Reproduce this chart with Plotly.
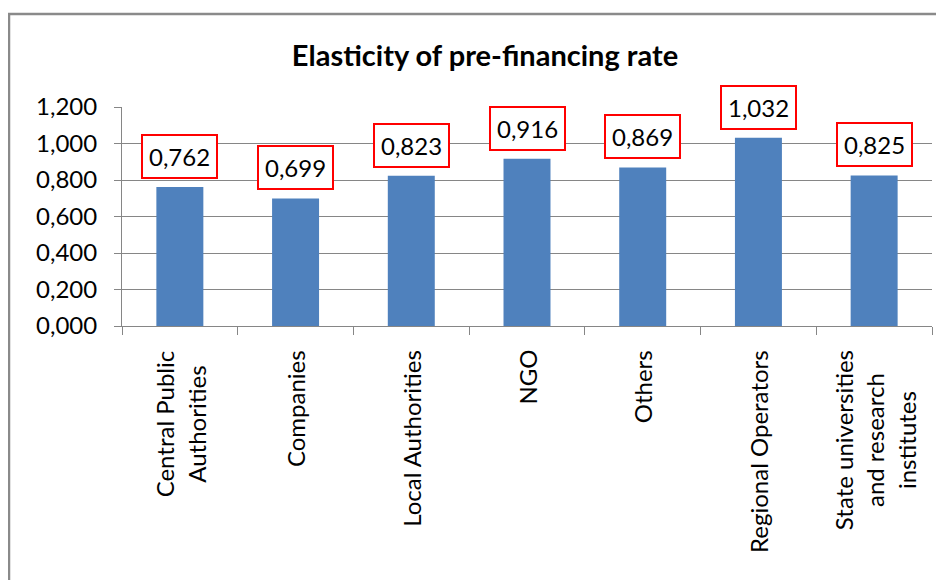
import plotly.graph_objects as go

categories = ["Central Public<br>Authorities", "Companies", "Local Authorities", "NGO",
              "Others", "Regional Operators", "State universities<br>and research<br>institutes"]
values = [0.762, 0.699, 0.823, 0.916, 0.869, 1.032, 0.825]
y_ticks = [0.0, 0.2, 0.4, 0.6, 0.8, 1.0, 1.2]
title_text = "Elasticity of pre-financing rate"

FONT = "Lato"
GRID = "#868686"
OFF = 8  # page body margin

fig = go.Figure()
fig.add_trace(go.Bar(x=categories, y=values, marker=dict(color="#4F81BD", line=dict(width=0)),
                     hoverinfo="skip"))

for c, v in zip(categories, values):
    fig.add_annotation(x=c, y=v, xref="x", yref="y", yanchor="bottom", yshift=8,
                       text=f"{v:.3f}".replace(".", ","), showarrow=False,
                       font=dict(family=FONT, size=24, color="#000000"),
                       bgcolor="white", bordercolor="#FF0000", borderwidth=2, borderpad=6)

# category labels, rotated, lines centred as in the original
for c in categories:
    fig.add_annotation(x=c, y=0, xref="x", yref="paper", yanchor="top", xanchor="center",
                       yshift=-22, textangle=-90, text=c, showarrow=False, align="center",
                       font=dict(family=FONT, size=24, color="#000000"))

W, H = 944 - OFF, 580 - OFF
L, R, T, B = 122 - OFF, 932 - OFF, 107 - OFF, 326 - OFF
def px(xp):
    return (xp - OFF - L) / (R - L)
def py(yp):
    return (B - (yp - OFF)) / (B - T)

fig.add_shape(type="rect", xref="paper", yref="paper",
              x0=px(9), x1=px(980), y0=py(14), y1=py(640),
              line=dict(color="#8a8a8a", width=2.5), fillcolor="rgba(0,0,0,0)", layer="above")

fig.update_layout(
    width=W, height=H,
    margin=dict(l=L, r=W - R, t=T, b=H - B, pad=0),
    paper_bgcolor="white", plot_bgcolor="white",
    separators=",.",
    bargap=0.594,
    showlegend=False,
    title=dict(text="<b>" + title_text + "</b>", x=(485 - OFF) / W, xanchor="center",
               y=1 - (56 - OFF) / H, yanchor="middle", xref="container", yref="container",
               font=dict(family=FONT, size=29, color="#000000")),
    font=dict(family=FONT, color="#000000"),
)
fig.update_yaxes(range=[0, 1.2], tickvals=y_ticks, tickformat=".3f",
                 showgrid=True, gridcolor=GRID, gridwidth=1,
                 showline=True, linecolor=GRID, linewidth=1,
                 ticks="outside", ticklen=7, tickcolor=GRID, tickwidth=1,
                 zeroline=False, ticklabelstandoff=12,
                 tickfont=dict(family=FONT, size=24, color="#000000"), fixedrange=True)
fig.update_xaxes(showgrid=False, showline=True, linecolor=GRID, linewidth=1,
                 ticks="outside", tickson="boundaries", ticklen=8, tickcolor=GRID, tickwidth=1,
                 showticklabels=False, fixedrange=True)

fig.write_html("out.html", config={"displayModeBar": False})
